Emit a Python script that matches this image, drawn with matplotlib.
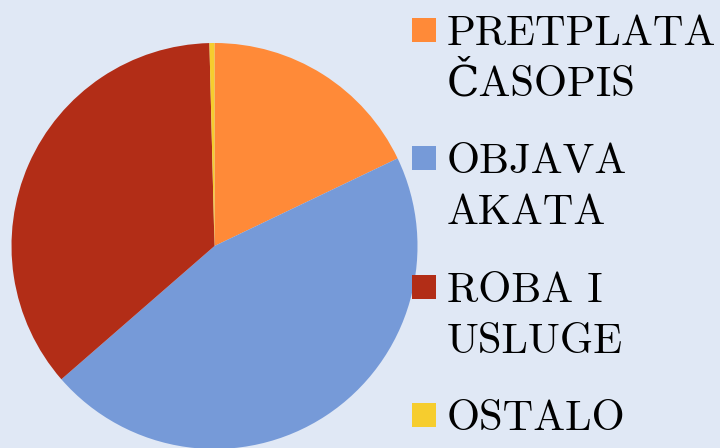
import matplotlib.pyplot as plt
from matplotlib.patches import Rectangle

# Revenue shares (%)
labels = ["PRETPLATA\nČASOPIS", "OBJAVA\nAKATA", "ROBA I\nUSLUGE", "OSTALO"]
values = [17.9, 45.7, 36.0, 0.4]
colors = ["#FF8A38", "#769AD8", "#B22D17", "#F6CD2E"]
bg = "#E0E8F5"

fig = plt.figure(figsize=(7.2, 4.48), dpi=100, facecolor=bg)

# Pie axes: centre ~(214, 246) px, radius ~203 px
ax = fig.add_axes([(214.5 - 203) / 720, (448 - 246 - 203) / 448, 406 / 720, 406 / 448])
ax.set_facecolor(bg)
ax.pie(values, colors=colors, startangle=90, counterclock=False,
       wedgeprops=dict(linewidth=0))
ax.set_xlim(-1, 1)
ax.set_ylim(-1, 1)
ax.set_aspect('equal')
ax.axis('off')

# Legend drawn by hand
font = ['cmr10', 'DejaVu Serif']
baselines = [45, 173, 302, 430]
line_gap = 51
for lab, col, yb in zip(labels, colors, baselines):
    fig.patches.append(Rectangle((412 / 720, 1 - (yb - 3) / 448), 24 / 720, 24 / 448,
                                 transform=fig.transFigure, facecolor=col,
                                 edgecolor='none'))
    for i, line in enumerate(lab.split("\n")):
        fig.text(447 / 720, 1 - (yb + i * line_gap) / 448, line, family=font,
                 fontsize=30.6, va='baseline', ha='left', color='black')

fig.savefig('out.png', dpi=100, facecolor=bg)
